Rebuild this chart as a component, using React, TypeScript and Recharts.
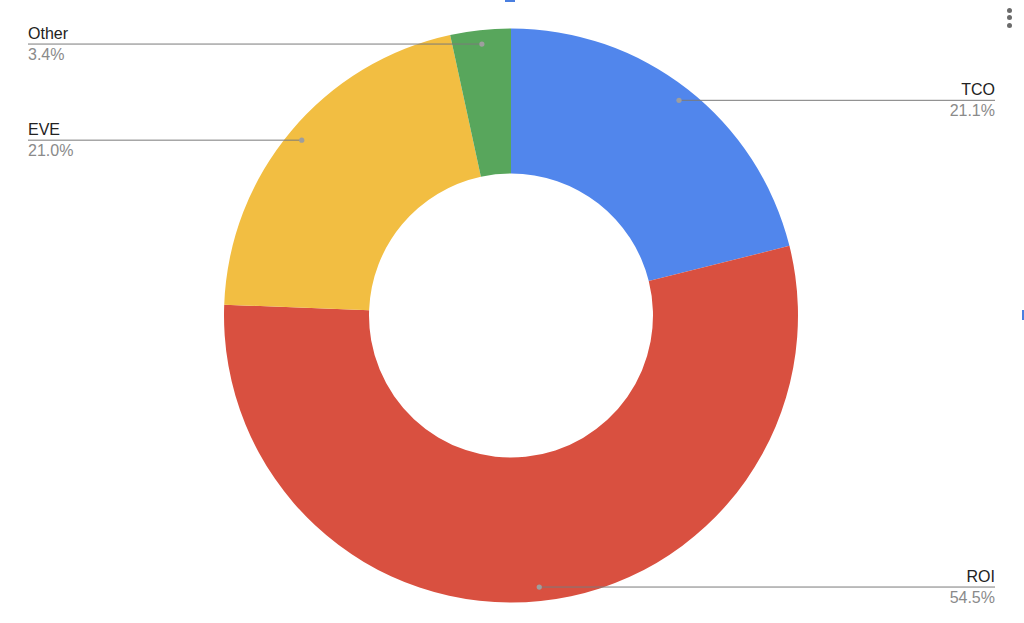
import React from "react";
import { PieChart, Pie, Cell } from "recharts";

const categories = ["TCO", "ROI", "EVE", "Other"];
const shares = [21.1, 54.5, 21.0, 3.4];
const colors = ["#5186EC", "#D95040", "#F2BE42", "#58A65C"];

const data = categories.map((name, i) => ({ name, value: shares[i] }));

const RAD = Math.PI / 180;

const renderLabel = (props: any) => {
  const { cx, cy, midAngle, outerRadius, percent, name } = props;
  const r = outerRadius - 14;
  const x = cx + r * Math.cos(-midAngle * RAD);
  const y = cy + r * Math.sin(-midAngle * RAD);
  const right = Math.cos(-midAngle * RAD) >= 0;
  const endX = right ? 995 : 28;
  const anchor = right ? "end" : "start";
  return (
    <g>
      <line x1={x} y1={y} x2={endX} y2={y} stroke="#7a7a7a" strokeWidth={1} />
      <circle cx={x} cy={y} r={2.6} fill="#9e9e9e" />
      <text
        x={endX}
        y={y - 5}
        textAnchor={anchor}
        fill="#222"
        fontSize={16}
        fontFamily="'Liberation Sans', Arial, sans-serif"
      >
        {name}
      </text>
      <text
        x={endX}
        y={y + 16}
        textAnchor={anchor}
        fill="#8a8a8a"
        fontSize={16}
        fontFamily="'Liberation Sans', Arial, sans-serif"
      >
        {(percent * 100).toFixed(1) + "%"}
      </text>
    </g>
  );
};

export default function App() {
  return (
    <div
      style={{
        position: "absolute",
        left: 0,
        top: 0,
        width: 1024,
        height: 623,
        background: "#fff",
        overflow: "hidden",
      }}
    >
      <PieChart width={1024} height={623} margin={{ top: 0, right: 0, bottom: 0, left: 0 }}>
        <Pie
          data={data}
          dataKey="value"
          nameKey="name"
          cx={511}
          cy={315.5}
          innerRadius={142}
          outerRadius={287}
          startAngle={90}
          endAngle={-270}
          stroke="none"
          label={renderLabel}
          labelLine={false}
          isAnimationActive={false}
        >
          {data.map((d, i) => (
            <Cell key={d.name} fill={colors[i]} />
          ))}
        </Pie>
      </PieChart>
      {/* UI decorations */}
      <div style={{ position: "absolute", left: 505, top: 0, width: 10, height: 2, background: "#4a7fe0" }} />
      <div style={{ position: "absolute", left: 1022, top: 310, width: 2, height: 10, background: "#4a7fe0" }} />
      {[10, 17.5, 25].map((t) => (
        <div
          key={t}
          style={{
            position: "absolute",
            left: 1006.5,
            top: t - 2.5,
            width: 5,
            height: 5,
            borderRadius: "50%",
            background: "#6b6b6b",
          }}
        />
      ))}
    </div>
  );
}
